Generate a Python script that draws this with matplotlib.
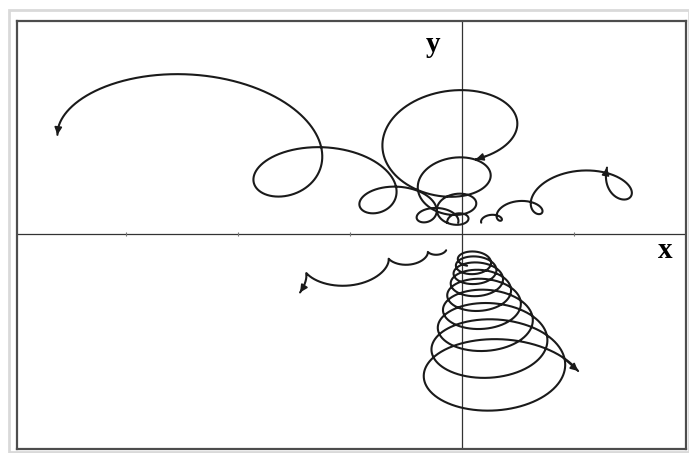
import numpy as np
import matplotlib.pyplot as plt
from matplotlib.patches import Rectangle

# drifting orbits: guiding centre at start, drift per unit of growth,
# starting semi-axes, growth per turn, growth range, final phase (deg), sense
centre_x = [-0.260, -0.058, 0.335, 0.094, -0.308]
centre_y = [0.183, 0.133, 0.173, -0.210, -0.185]
drift_x = [-0.452, -0.030, 0.285, 0.058, -0.317]
drift_y = [0.170, 0.150, 0.100, -0.259, -0.085]
radius_x = [0.138, 0.105, 0.070, 0.133, 0.038]
radius_y = [0.088, 0.068, 0.050, 0.075, 0.029]
growth = [1.85, 1.85, 2.2, 1.22, 2.1]
grow_from = [0.7, 0.8, 0.5, 1.0, 0.55]
grow_to = [6.6, 7.65, 5.74, 5.55, 5.22]
end_phase = [205, -62, 190, 24, 10]
sense = [1, -1, -1, -1, -1]

x_ticks = [-3, -2, -1, 1]


def orbit(i, n=4000):
    k = np.log(growth[i]) / (2 * np.pi)
    th = np.linspace(np.log(grow_from[i]) / k, np.log(grow_to[i]) / k, n)
    e = np.exp(k * th)
    phi = np.radians(end_phase[i]) + sense[i] * (th - th[-1])
    x = centre_x[i] + drift_x[i] * (e - 1) + radius_x[i] * e * np.cos(phi)
    y = centre_y[i] + drift_y[i] * (e - 1) + radius_y[i] * e * np.sin(phi)
    return x, y


fig = plt.figure(figsize=(6.89, 4.53), dpi=100)
ax = fig.add_axes([17.3 / 689, 1 - 449.3 / 453, (685.7 - 17.3) / 689, (449.3 - 20.7) / 453])
ax.set_xlim(-3.975, 1.993)
ax.set_ylim(-1.918, 1.909)

ax.axhline(0, color='#333333', lw=0.9, zorder=1)
ax.axvline(0, color='#333333', lw=0.9, zorder=1)
ax.plot(x_ticks, [0] * len(x_ticks), ls='none', marker='|', ms=3, color='#777777', mew=0.8)

for i in range(len(growth)):
    x, y = orbit(i)
    ax.plot(x, y, color='#1a1a1a', lw=1.5, solid_capstyle='round', zorder=3)
    ax.annotate('', xy=(x[-1], y[-1]), xytext=(x[-25], y[-25]),
                arrowprops=dict(arrowstyle='-|>', color='#1a1a1a', lw=1.2,
                                mutation_scale=11, shrinkA=0, shrinkB=0), zorder=4)

ax.text(-0.26, 1.70, 'y', fontsize=21, fontweight='bold', family='Liberation Serif',
        ha='center', va='center')
ax.text(1.81, -0.14, 'x', fontsize=21, fontweight='bold', family='Liberation Serif',
        ha='center', va='center')

ax.set_xticks([])
ax.set_yticks([])
for s in ax.spines.values():
    s.set_color('#4d4d4d')
    s.set_linewidth(1.6)

fig.patches.append(Rectangle((9 / 689, 1 - 452 / 453), 680 / 689, 442 / 453,
                             transform=fig.transFigure, fill=False,
                             ec='#d9d9d9', lw=2))

fig.savefig('out.png', dpi=100)
